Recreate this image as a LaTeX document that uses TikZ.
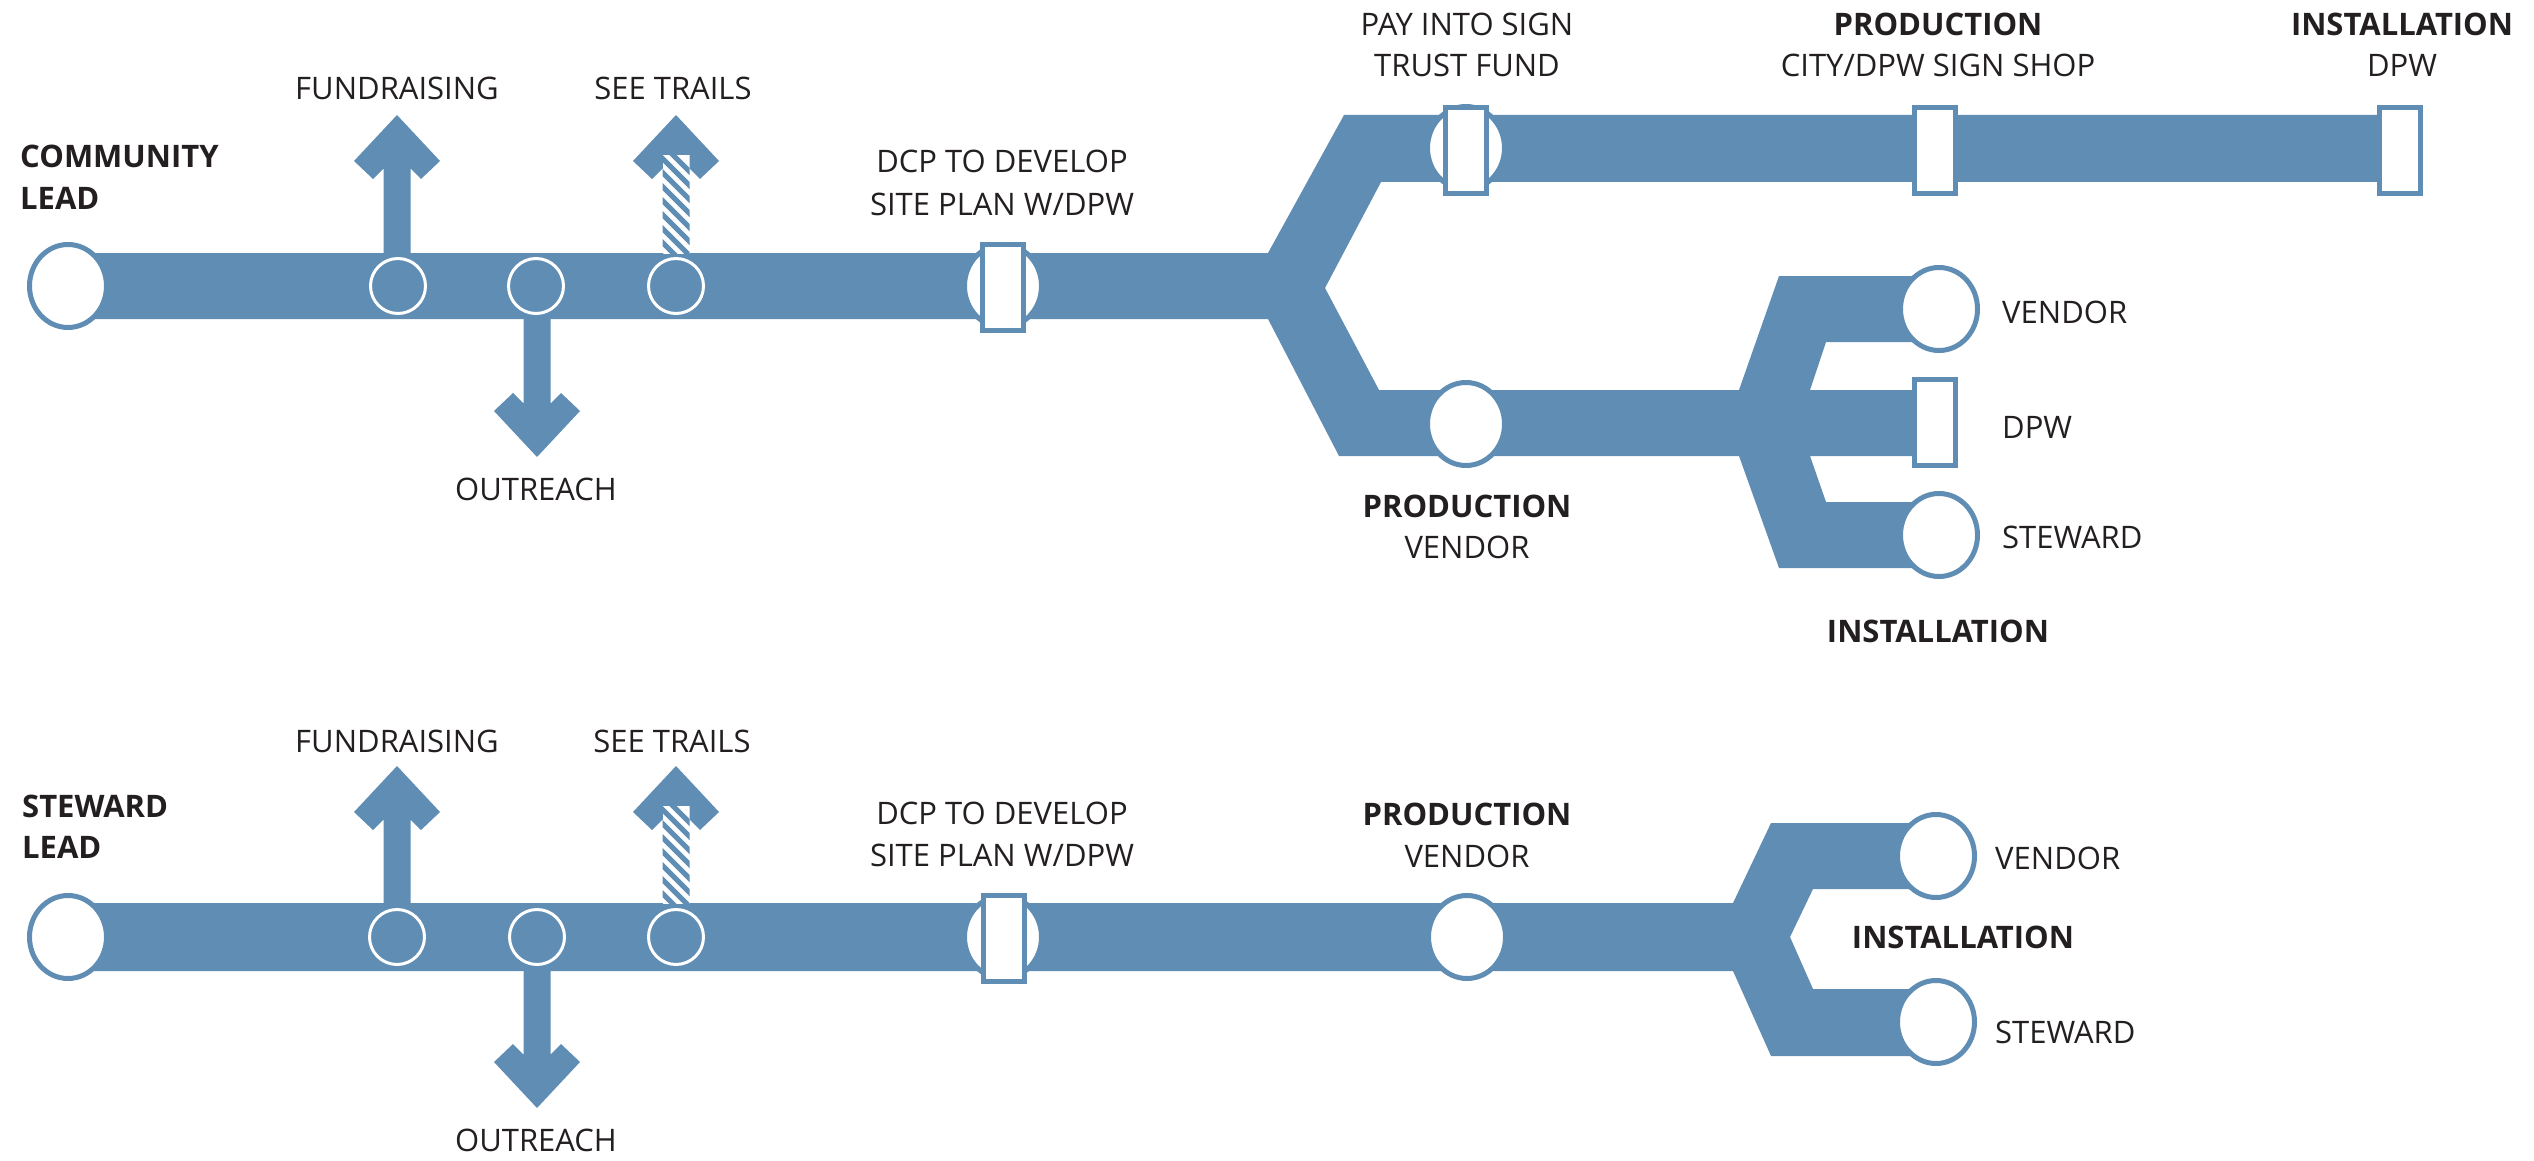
\documentclass[tikz,border=0pt]{standalone}
\usepackage{fontspec}
\setmainfont{Open Sans}
\usetikzlibrary{shapes.geometric}
\definecolor{bl}{HTML}{608DB4}
\definecolor{tx}{HTML}{231F20}
\newcommand{\arrUp}[3]{%
  \fill[bl] (#1-13.5,#3) -- (#1-13.5,#2+53.5) -- (#1-24,#2+64) -- (#1-43,#2+46) -- (#1,#2)
    -- (#1+43,#2+46) -- (#1+24,#2+64) -- (#1+13.5,#2+53.5) -- (#1+13.5,#3) -- cycle;}
\newcommand{\arrDown}[3]{%
  \fill[bl] (#1-13.5,#3) -- (#1-13.5,#2-53.5) -- (#1-24,#2-64) -- (#1-43,#2-46) -- (#1,#2)
    -- (#1+43,#2-46) -- (#1+24,#2-64) -- (#1+13.5,#2-53.5) -- (#1+13.5,#3) -- cycle;}
\newcommand{\arrHatch}[3]{%
  \fill[bl] (#1-13.5,#2+53.5) -- (#1-24,#2+64) -- (#1-43,#2+46) -- (#1,#2)
    -- (#1+43,#2+46) -- (#1+24,#2+64) -- (#1+13.5,#2+53.5) -- cycle;
  \begin{scope}
    \clip (#1-13.5,#2+40) rectangle (#1+13.5,#3);
    \fill[white] (#1-13.5,#2+40) rectangle (#1+13.5,#3);
    \foreach \k in {0,...,11} \draw[bl,line width=5pt] (#1-25,#2+18+14*\k) -- (#1+25,#2+68+14*\k);
  \end{scope}}
\begin{document}
\begin{tikzpicture}[x=1pt,y=-1pt,
  big/.style={ellipse,draw=bl,line width=5pt,fill=white,minimum width=77pt,minimum height=83pt,inner sep=0pt},
  small/.style={circle,draw=white,line width=3pt,minimum size=55pt,inner sep=0pt},
  boxn/.style={rectangle,draw=bl,line width=5pt,fill=white,minimum width=41pt,minimum height=86pt,inner sep=0pt},
  lbl/.style={text=tx,font=\fontsize{31}{37}\selectfont,inner sep=0pt,anchor=base},
  lblb/.style={text=tx,font=\fontsize{31}{37}\selectfont\bfseries,inner sep=0pt,anchor=base},
  lbll/.style={lbl,anchor=base west},
  lblbl/.style={lblb,anchor=base west},
]
\useasboundingbox[fill=white] (0,0) rectangle (2534,1161);

% ---------------- TOP ----------------
\fill[bl] (68,253) -- (1268,253) -- (1344,115) -- (2400,115) -- (2400,182) -- (1381,182)
  -- (1325,288) -- (1379,390) -- (1739,390) -- (1779,276) -- (1939,276) -- (1939,342)
  -- (1826,342) -- (1810,390) -- (1935,390) -- (1935,456) -- (1810,456) -- (1826,502)
  -- (1939,502) -- (1939,568) -- (1779,568) -- (1739,456) -- (1339,456) -- (1268,319)
  -- (68,319) -- cycle;
\arrUp{397}{115}{260}
\arrDown{537}{457}{312}
\arrHatch{676}{115}{254}

\node[small] (t1) at (398,286) {};
\node[small] (t2) at (536,286) {};
\node[small] (t3) at (676,286) {};
\node[big] (tstart) at (68,286) {};
\node[big] (tdcpc) at (1003,286) {};
\node[boxn] (tdcp) at (1003,287.5) {};
\node[big] (tpayc) at (1466,148) {};
\node[boxn] (tpay) at (1466,150.5) {};
\node[boxn] (tcity) at (1935,150.5) {};
\node[boxn] (tinst) at (2400,150.5) {};
\node[big] (tprod) at (1466,424) {};
\node[big] (tven) at (1939,309) {};
\node[boxn] (tdpw) at (1935,422.5) {};
\node[big] (tste) at (1939,535) {};

\node[lblbl] (lc1) at (20,168) {COMMUNITY};
\node[lblbl] (lc2) at (20,210) {LEAD};
\node[lbl] (lf) at (397,100) {FUNDRAISING};
\node[lbl] (ls) at (673,100) {SEE TRAILS};
\node[lbl] (lo) at (536,500) {OUTREACH};
\node[lbl] (ld1) at (1002,173) {DCP TO DEVELOP};
\node[lbl] (ld2) at (1002,215) {SITE PLAN W/DPW};
\node[lbl] (lp1) at (1467,36) {PAY INTO SIGN};
\node[lbl] (lp2) at (1467,77) {TRUST FUND};
\node[lblb] (lq1) at (1938,36) {PRODUCTION};
\node[lbl] (lq2) at (1938,77) {CITY/DPW SIGN SHOP};
\node[lblb] (li1) at (2402,36) {INSTALLATION};
\node[lbl] (li2) at (2402,77) {DPW};
\node[lblb] (lv1) at (1467,517) {PRODUCTION};
\node[lbl] (lv2) at (1467,558) {VENDOR};
\node[lbll] (lr1) at (2002,323) {VENDOR};
\node[lbll] (lr2) at (2002,438) {DPW};
\node[lbll] (lr3) at (2002,548) {STEWARD};
\node[lblb] (lin) at (1938,642) {INSTALLATION};

% ---------------- BOTTOM ----------------
\fill[bl] (68,903) -- (1733,903) -- (1771,823) -- (1936,823) -- (1936,889) -- (1813,889)
  -- (1790,937) -- (1813,989) -- (1936,989) -- (1936,1056) -- (1771,1056) -- (1733,971)
  -- (68,971) -- cycle;
\arrUp{397}{766}{910}
\arrDown{537}{1108}{964}
\arrHatch{676}{766}{904}

\node[small] (b1) at (397,937) {};
\node[small] (b2) at (537,937) {};
\node[small] (b3) at (676,937) {};
\node[big] (bstart) at (68,937) {};
\node[big] (bdcpc) at (1003,937) {};
\node[boxn] (bdcp) at (1004,938.5) {};
\node[big] (bprod) at (1467,937) {};
\node[big] (bven) at (1936,856) {};
\node[big] (bste) at (1936,1022) {};

\node[lblbl] (ms1) at (22,817) {STEWARD};
\node[lblbl] (ms2) at (22,858) {LEAD};
\node[lbl] (mf) at (397,752) {FUNDRAISING};
\node[lbl] (mt) at (672,752) {SEE TRAILS};
\node[lbl] (mo) at (536,1151) {OUTREACH};
\node[lbl] (md1) at (1002,824) {DCP TO DEVELOP};
\node[lbl] (md2) at (1002,866) {SITE PLAN W/DPW};
\node[lblb] (mp1) at (1467,825) {PRODUCTION};
\node[lbl] (mp2) at (1467,867) {VENDOR};
\node[lbll] (mv) at (1995,869) {VENDOR};
\node[lbll] (mw) at (1995,1043) {STEWARD};
\node[lblb] (mi) at (1963,948) {INSTALLATION};
\end{tikzpicture}
\end{document}
